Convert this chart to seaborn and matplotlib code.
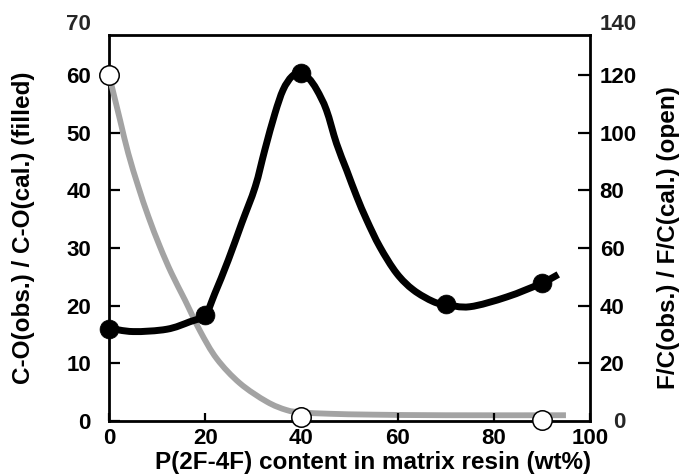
import matplotlib
matplotlib.use("Agg")
import matplotlib.pyplot as plt
from matplotlib.path import Path
from matplotlib.patches import PathPatch
import seaborn as sns
import pandas as pd

# Measured points (filled: C-O ratio, left axis; open: F/C ratio, right axis)
pct_filled = [0, 20, 40, 70, 90]
co_ratio = [16.0, 18.4, 60.3, 20.3, 23.9]
pct_open = [0, 40, 90]
fc_ratio = [120.0, 1.5, 0.3]

# Knots of the hand-drawn guide curves
co_curve_x = [0, 5, 12, 16.8, 20, 22.0, 24.8, 27.6, 30.4, 32.4, 34.5, 36.2, 38.0,
              39.7, 41.5, 43.2, 45.2, 47.3, 49.4, 51.5, 53.6, 56.3, 59.8, 63.3,
              67.4, 70, 75, 82.7, 90, 93.4]
co_curve_y = [16.1, 15.5, 15.9, 17.2, 18.4, 22.1, 27.9, 34.3, 40.6, 47.0, 53.3,
              57.4, 59.7, 60.3, 59.4, 57.4, 53.9, 48.1, 43.5, 38.9, 34.8, 30.2,
              25.6, 22.7, 20.7, 20.2, 19.8, 21.5, 23.9, 25.4]
fc_curve_x = [0, 2.3, 4.0, 6.1, 8.2, 10.6, 13.0, 15.8, 18.9, 22.4, 27.2,
              32.8, 36.9, 40, 46, 55, 70, 95]
fc_curve_y = [120, 104.3, 92.8, 81.2, 70.8, 60.4, 51.2, 41.9, 31.3, 21.6, 13.1,
              6.7, 3.8, 3.0, 2.5, 2.2, 2.0, 2.0]

x_ticks = [0, 20, 40, 60, 80, 100]
left_ticks = [0, 10, 20, 30, 40, 50, 60]
right_ticks = [20, 40, 60, 80, 100, 120]


def smooth_path(xs, ys):
    """Catmull-Rom curve through the knots, expressed as cubic Bezier segments."""
    pts = list(zip(xs, ys))
    n = len(pts)
    verts = [pts[0]]
    codes = [Path.MOVETO]
    for i in range(n - 1):
        p0 = pts[i - 1] if i > 0 else pts[i]
        p1 = pts[i]
        p2 = pts[i + 1]
        p3 = pts[i + 2] if i + 2 < n else pts[i + 1]
        c1 = (p1[0] + (p2[0] - p0[0]) / 6, p1[1] + (p2[1] - p0[1]) / 6)
        c2 = (p2[0] - (p3[0] - p1[0]) / 6, p2[1] - (p3[1] - p1[1]) / 6)
        verts += [c1, c2, p2]
        codes += [Path.CURVE4] * 3
    return Path(verts, codes)


sns.set_theme(style="white")
plt.rcParams["font.family"] = ["Liberation Sans", "DejaVu Sans"]
plt.rcParams["font.weight"] = "bold"
plt.rcParams["axes.labelweight"] = "bold"

W, H = 681, 474
fig = plt.figure(figsize=(W / 100, H / 100), dpi=100)
ax = fig.add_axes([109 / W, 1 - 421 / H, 481 / W, 386 / H])
ax2 = ax.twinx()

# draw the C-O axis above the F/C axis so the black curve covers the grey one
ax.set_zorder(ax2.get_zorder() + 1)
ax.patch.set_visible(False)

ax.set_xlim(0, 100)
ax.set_ylim(0, 66.9)
ax2.set_ylim(0, 133.8)

ax2.add_patch(PathPatch(smooth_path(fc_curve_x, fc_curve_y), fill=False,
                        edgecolor="#a3a3a3", linewidth=4.2, capstyle="butt",
                        joinstyle="round", zorder=3))
ax.add_patch(PathPatch(smooth_path(co_curve_x, co_curve_y), fill=False,
                       edgecolor="black", linewidth=5.0, capstyle="butt",
                       joinstyle="round", zorder=3))

co_pts = pd.DataFrame({"x": pct_filled, "y": co_ratio})
fc_pts = pd.DataFrame({"x": pct_open, "y": fc_ratio})
sns.scatterplot(data=fc_pts, x="x", y="y", ax=ax2, s=196, color="white",
                edgecolor="black", linewidth=1.1, clip_on=False, zorder=5)
sns.scatterplot(data=co_pts, x="x", y="y", ax=ax, s=185, color="black",
                edgecolor="black", linewidth=0.5, clip_on=False, zorder=5)

ax.set_xlim(0, 100)
ax.set_ylim(0, 66.9)
ax2.set_ylim(0, 133.8)

for s in ax.spines.values():
    s.set_visible(False)
for s in ax2.spines.values():
    s.set_visible(True)
    s.set_linewidth(2.0)
    s.set_color("black")

ax.set_xticks(x_ticks)
ax.set_yticks(left_ticks)
ax2.set_yticks(right_ticks)

tick_font = 16
ax.tick_params(axis="x", direction="in", length=6, width=1.6, pad=5.4,
               labelsize=tick_font, colors="black", bottom=True)
ax.tick_params(axis="y", direction="in", length=8, width=1.6, pad=13,
               labelsize=tick_font, colors="black", left=True)
ax2.tick_params(axis="y", direction="in", length=9, width=1.6, pad=7,
                labelsize=tick_font, colors="black", right=True)
for lab in ax.get_xticklabels() + ax.get_yticklabels() + ax2.get_yticklabels():
    lab.set_fontweight("bold")

# open markers sit over these ticks
ax.yaxis.get_major_ticks()[6].tick1line.set_visible(False)
ax.xaxis.get_major_ticks()[2].tick1line.set_visible(False)

# labels above the frame and the right-hand zero
fig.text(90.7 / W, 1 - 25 / H, "70", ha="right", va="center",
         fontsize=tick_font, fontweight="bold")
fig.text(600 / W, 1 - 25 / H, "140", ha="left", va="center",
         fontsize=tick_font, fontweight="bold")
fig.text(613 / W, 1 - 423 / H, "0", ha="left", va="center",
         fontsize=tick_font, fontweight="bold")

label_font = 17.5
ax.set_xlabel("P(2F-4F) content in matrix resin (wt%)", fontsize=label_font,
              fontweight="bold", color="black")
ax.xaxis.set_label_coords((373 - 109) / 481, (421 - 462.5) / 386)
ax.xaxis.label.set_va("center")

ax.set_ylabel("C-O(obs.) / C-O(cal.) (filled)", fontsize=label_font,
              fontweight="bold", color="black")
ax.yaxis.set_label_coords((24 - 109) / 481, (421 - 228) / 386)
ax.yaxis.label.set_va("center")

ax2.set_ylabel("F/C(obs.) / F/C(cal.) (open)", fontsize=label_font,
               fontweight="bold", color="black", rotation=90)
ax2.yaxis.set_label_coords((668 - 109) / 481, (421 - 238) / 386)
ax2.yaxis.label.set_va("center")

fig.savefig("out.png", dpi=100)
